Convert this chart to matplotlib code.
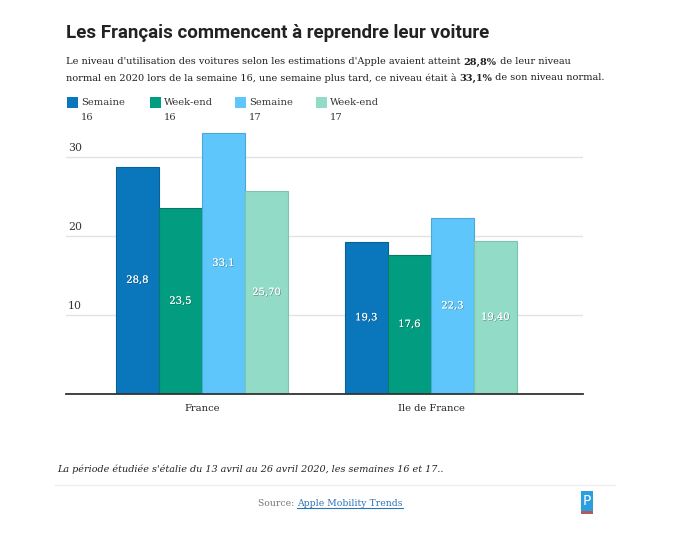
import matplotlib
matplotlib.use("Agg")
import matplotlib.pyplot as plt
import matplotlib.patheffects as pe
from matplotlib.patches import Rectangle
from matplotlib.lines import Line2D
import numpy as np

# Données (Apple Mobility Trends, semaines 16 et 17)
regions = ["France", "Ile de France"]
series = ["Semaine\n16", "Week-end\n16", "Semaine\n17", "Week-end\n17"]
sem16 = [28.8, 19.3]
we16 = [23.5, 17.6]
sem17 = [33.1, 22.3]
we17 = [25.70, 19.40]
labels_sem16 = ["28,8", "19,3"]
labels_we16 = ["23,5", "17,6"]
labels_sem17 = ["33,1", "22,3"]
labels_we17 = ["25,70", "19,40"]
yticks = [10, 20, 30]

colors = ["#0a77bd", "#029c80", "#5ec6fb", "#92dbc7"]
edges = ["#07609a", "#027a64", "#48a9d8", "#7cc3b0"]

SERIF = "DejaVu Serif"
W, H = 680, 540

fig = plt.figure(figsize=(6.8, 5.4), dpi=100)
fig.patch.set_facecolor("white")
renderer = fig.canvas.get_renderer()


def fx(px):
    return px / W


def fy(py):
    return 1 - py / H


# Axes placed in pixel coordinates of the reference
ax = fig.add_axes([fx(66), fy(394), fx(583) - fx(66), fy(129.5) - fy(394)])

values = [sem16, we16, sem17, we17]
texts = [labels_sem16, labels_we16, labels_sem17, labels_we17]
x = np.arange(len(regions))
bw = 0.188
for i, (vals, labs) in enumerate(zip(values, texts)):
    pos = x + (i - 1.5) * bw
    ax.bar(pos, vals, width=bw, color=colors[i], edgecolor=edges[i],
           linewidth=0.8, zorder=3)
    for p, v, lab in zip(pos, vals, labs):
        ax.text(p, v / 2, lab, ha="center", va="center", color="white",
                fontsize=7.2, family=SERIF, zorder=4,
                path_effects=[pe.withSimplePatchShadow(offset=(0.5, -0.5),
                                                       shadow_rgbFace="#333333",
                                                       alpha=0.5),
                              pe.Normal()])

ax.set_xlim(-0.594, 1.664)
ax.set_ylim(0, 33.5)
ax.set_yticks(yticks)
ax.yaxis.grid(True, color="#e3e3e3", linewidth=1, zorder=0)
ax.tick_params(axis="y", length=0, labelleft=False)
ax.set_xticks(x)
ax.set_xticklabels(regions, family=SERIF, fontsize=7.1, color="#222222")
ax.tick_params(axis="x", length=0, pad=7)
for s in ["top", "right", "left"]:
    ax.spines[s].set_visible(False)
ax.spines["bottom"].set_color("#333333")
ax.spines["bottom"].set_linewidth(1.3)
ax.spines["bottom"].set_zorder(5)

# Y tick labels sit above the gridlines, inside the plot
for t in yticks:
    ax.annotate(str(t), xy=(0, t), xycoords=("axes fraction", "data"),
                xytext=(1.5, 6.5), textcoords="offset points", ha="left",
                va="center", fontsize=7.8, family=SERIF, color="#333333")

# Title
fig.text(fx(66), fy(38.5), "Les Français commencent à reprendre leur voiture",
         family="Roboto", weight="bold", fontsize=13.5, color="#222222",
         va="baseline", ha="left")


def rich_line(x0, y0, parts, size=7.0, color="#1e1e1e", family=SERIF):
    cur = x0
    for txt, bold in parts:
        t = fig.text(fx(cur), fy(y0), txt, fontsize=size, family=family,
                     weight="bold" if bold else "normal", color=color,
                     va="center", ha="left")
        cur += t.get_window_extent(renderer).width
    return cur


rich_line(66, 62, [("Le niveau d'utilisation des voitures selon les estimations d'Apple avaient atteint ", False),
                   ("28,8%", True), (" de leur niveau", False)])
rich_line(66, 78, [("normal en 2020 lors de la semaine 16, une semaine plus tard, ce niveau était à ", False),
                   ("33,1%", True), (" de son niveau normal.", False)])

# Legend
leg_x = [67, 150, 235, 316]
for lx, lab, c in zip(leg_x, series, colors):
    fig.patches.append(Rectangle((fx(lx), fy(107.5)), fx(11), fy(97) - fy(107.5),
                                 transform=fig.transFigure, facecolor=c,
                                 edgecolor="none"))
    for j, line in enumerate(lab.split("\n")):
        fig.text(fx(lx + 14), fy(102.5 + 15.5 * j), line, fontsize=7.1,
                 family=SERIF, color="#333333", va="center", ha="left")

# Footer
fig.text(fx(57), fy(469), "La période étudiée s'étalie du 13 avril au 26 avril 2020, les semaines 16 et 17..",
         fontsize=6.95, family=SERIF, style="italic", color="#222222",
         va="center", ha="left")
fig.add_artist(Line2D([fx(55), fx(615)], [fy(485), fy(485)], color="#eeeeee",
                      linewidth=1, transform=fig.transFigure))

src = fig.text(fx(258), fy(503), "Source: ", fontsize=6.7, family=SERIF,
               color="#777777", va="center", ha="left")
sx = 258 + src.get_window_extent(renderer).width
link = fig.text(fx(sx), fy(503), "Apple Mobility Trends", fontsize=6.7,
                family=SERIF, color="#2d74b5", va="center", ha="left")
lw = link.get_window_extent(renderer).width
fig.add_artist(Line2D([fx(sx), fx(sx + lw)], [fy(508), fy(508)],
                      color="#2d74b5", linewidth=0.8,
                      transform=fig.transFigure))

# Small "P" logo
fig.patches.append(Rectangle((fx(581), fy(511)), fx(12), fy(491) - fy(511),
                             transform=fig.transFigure, facecolor="#2a9fe0",
                             edgecolor="none"))
fig.patches.append(Rectangle((fx(581), fy(514)), fx(12), fy(511) - fy(514),
                             transform=fig.transFigure, facecolor="#b55a5a",
                             edgecolor="none"))
fig.text(fx(587), fy(501), "P", fontsize=10, family="DejaVu Sans",
         color="white", ha="center", va="center")

fig.savefig("out.png", dpi=100)
